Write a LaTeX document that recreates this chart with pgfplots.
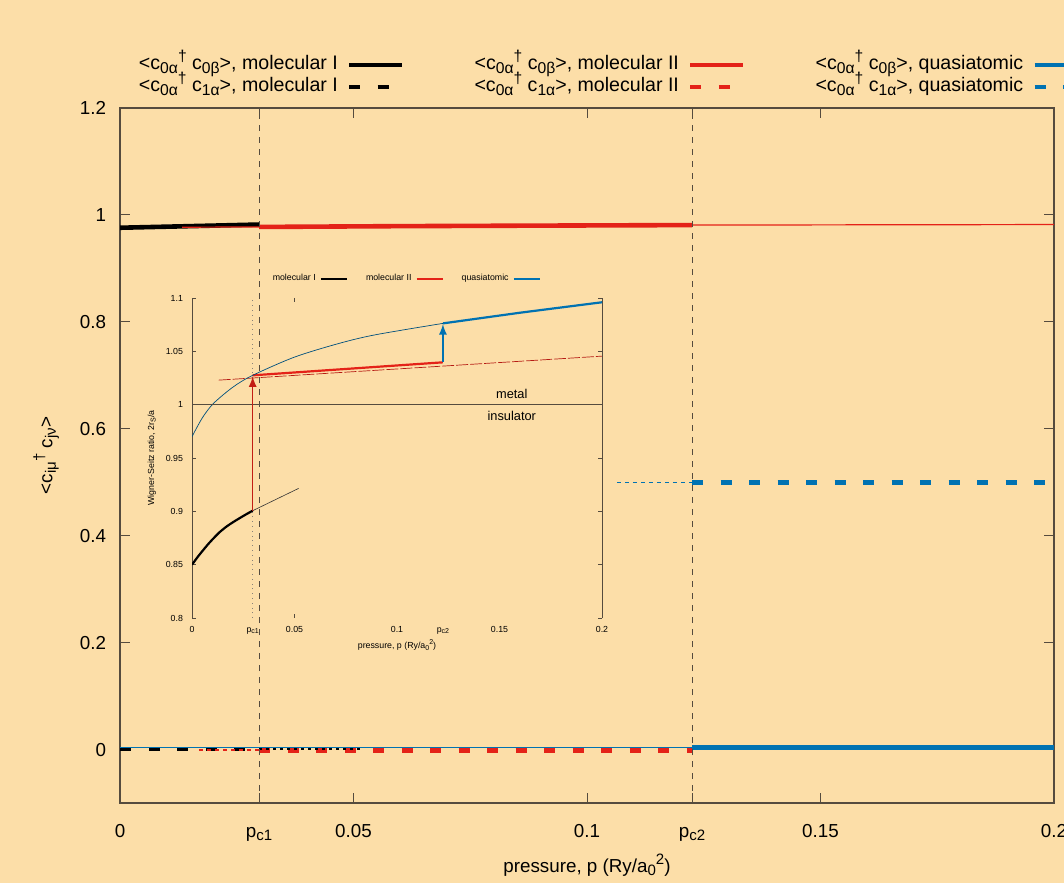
\documentclass[border=0pt]{standalone}
\usepackage{fontspec}
\setmainfont{Liberation Sans}
\usepackage{graphicx}
\usepackage{pgfplots}
\pgfplotsset{compat=1.18}
\definecolor{bg}{RGB}{252,222,168}
\definecolor{myred}{RGB}{228,34,24}
\definecolor{myblue}{RGB}{0,114,178}
\definecolor{axc}{RGB}{85,75,62}
\newcommand{\sbs}[1]{\raisebox{-0.35ex}{\scalebox{0.8}{#1}}}
\newcommand{\sps}[1]{\raisebox{0.8ex}{\scalebox{0.8}{#1}}}
\newcommand{\cc}[2]{<c\sbs{#1}\sps{†} c\sbs{#2}>}
\newcommand{\mainfont}{\fontsize{9.4}{11}\selectfont}
\newcommand{\legfont}{\fontsize{9.8}{11}\selectfont}
\newcommand{\tinyf}{\fontsize{4.4}{5}\selectfont}
\begin{document}
\begin{tikzpicture}
\fill[bg] (-60pt,-40pt) rectangle (472pt,401.5pt);
\begin{axis}[
  scale only axis, width=467pt, height=347.5pt,
  xmin=0, xmax=0.2, ymin=-0.1, ymax=1.2,
  axis line style={axc, line width=0.6pt},
  tick align=inside, major tick length=5pt,
  every tick/.style={axc, line width=0.5pt},
  xtick={0,0.0298,0.05,0.1,0.1225,0.15,0.2},
  xticklabels={0,p\sbs{c1},0.05,0.1,p\sbs{c2},0.15,0.2},
  ytick={0,0.2,0.4,0.6,0.8,1,1.2},
  yticklabels={0,0.2,0.4,0.6,0.8,1,1.2},
  ticklabel style={font=\mainfont},
  xticklabel style={anchor=base, yshift=-17pt},
  yticklabel style={xshift=-3.4pt},
  xlabel={pressure, p (Ry/a\sbs{0}\sps{2})},
  ylabel={\cc{iμ}{jν}},
  label style={font=\mainfont},
  xlabel style={at={(axis description cs:0.5,-0.089)}, anchor=center},
  ylabel style={at={(axis description cs:-0.079,0.5)}, anchor=center, rotate=0},
  legend columns=3, legend plot pos=right, legend cell align=right,
  legend image code/.code={\draw[#1] (0pt,0pt) -- (26.5pt,0pt);},
  legend style={at={(axis description cs:0.0203,1.0756)}, anchor=north west,
    draw=none, fill=none, inner sep=0pt, outer sep=0pt, font=\legfont,
    nodes={inner sep=0pt, text height=7pt, text depth=2.5pt},
    row sep=1.5pt,
    /tikz/every odd column/.append style={column sep=4.5pt},
    /tikz/every even column/.append style={column sep=35pt}},
]
% legend series
\addplot[black, line width=2.3pt] coordinates {(0,0.976) (0.01,0.978) (0.02,0.980) (0.0298,0.982)};
\addlegendentry{\cc{0α}{0β}, molecular I}
\addplot[myred, line width=2.3pt] coordinates {(0.0298,0.9775) (0.06,0.979) (0.09,0.980) (0.1225,0.981)};
\addlegendentry{\cc{0α}{0β}, molecular II}
\addplot[myblue, line width=2.3pt] coordinates {(0.1225,0.004) (0.16,0.004) (0.2,0.004)};
\addlegendentry{\cc{0α}{0β}, quasiatomic}
\addplot[black, line width=2.3pt, dash pattern=on 5.5pt off 8.75pt] coordinates {(0,0.001) (0.0298,0.001)};
\addlegendentry{\cc{0α}{1α}, molecular I}
\addplot[myred, line width=2.3pt, dash pattern=on 5.5pt off 8.75pt] coordinates {(0.0298,-0.002) (0.1225,-0.002)};
\addlegendentry{\cc{0α}{1α}, molecular II}
\addplot[myblue, line width=2.3pt, dash pattern=on 5.5pt off 8.75pt] coordinates {(0.1225,0.5) (0.2,0.5)};
\addlegendentry{\cc{0α}{1α}, quasiatomic}
% thin metastable continuations
\addplot[forget plot, myred, line width=0.6pt] coordinates {(0.0133,0.977) (0.0298,0.9775)};
\addplot[forget plot, myred, line width=0.6pt] coordinates {(0.1225,0.981) (0.2,0.982)};
\addplot[forget plot, myblue, line width=0.6pt, dash pattern=on 2pt off 2pt] coordinates {(0.1064,0.5) (0.1225,0.5)};
\addplot[forget plot, black, line width=0.6pt, dash pattern=on 1.5pt off 2pt] coordinates {(0.0298,0.001) (0.052,0.001)};
\addplot[forget plot, myred, line width=0.6pt, dash pattern=on 2pt off 2pt] coordinates {(0.017,-0.001) (0.0298,-0.001)};
\addplot[forget plot, myblue, line width=0.6pt] coordinates {(0,0.004) (0.1225,0.004)};
% transition lines
\addplot[forget plot, axc, line width=0.5pt, dash pattern=on 3pt off 3pt] coordinates {(0.0298,-0.1) (0.0298,1.2)};
\addplot[forget plot, axc, line width=0.5pt, dash pattern=on 3pt off 3pt] coordinates {(0.1225,-0.1) (0.1225,1.2)};
\end{axis}

% inset
\begin{axis}[
  at={(36pt,92.5pt)}, anchor=south west,
  scale only axis, width=205pt, height=160pt,
  xmin=0, xmax=0.2, ymin=0.8, ymax=1.1,
  separate axis lines,
  x axis line style={draw=none},
  y axis line style={axc, line width=0.5pt},
  tick align=inside, major tick length=2pt,
  every tick/.style={axc, line width=0.4pt},
  xtick={0.05},
  xticklabels={0.05},
  extra x ticks={0,0.0296,0.1,0.1224,0.15,0.2},
  extra x tick labels={0,p\sbs{c1},0.1,p\sbs{c2},0.15,0.2},
  extra x tick style={major tick length=0pt},
  ytick={0.8,0.85,0.9,0.95,1,1.05,1.1},
  yticklabels={0.8,0.85,0.9,0.95,1,1.05,1.1},
  ticklabel style={font=\tinyf},
  xticklabel style={anchor=base, yshift=-7pt},
  yticklabel style={xshift=-1pt},
  xlabel={pressure, p (Ry/a\sbs{0}\sps{2})},
  ylabel={Wigner-Seitz ratio, 2r\sbs{S}/a},
  label style={font=\tinyf},
  xlabel style={at={(axis description cs:0.5,-0.085)}, anchor=center},
  ylabel style={at={(axis description cs:-0.098,0.5)}, anchor=center},
  legend columns=3, legend plot pos=right, legend cell align=right,
  legend image code/.code={\draw[#1] (0pt,0pt) -- (13pt,0pt);},
  legend style={at={(axis description cs:0.197,1.06)}, anchor=west,
    draw=none, fill=none, inner sep=0pt, outer sep=0pt, font=\tinyf,
    nodes={inner sep=0pt},
    /tikz/every odd column/.append style={column sep=2pt},
    /tikz/every even column/.append style={column sep=9pt}},
]
\addplot[black, line width=1.1pt, smooth] coordinates {(0,0.85) (0.003,0.8578) (0.0056,0.864) (0.008,0.8695) (0.0104,0.8745) (0.0135,0.8805) (0.0169,0.8858) (0.02,0.8898) (0.0234,0.8938) (0.0265,0.8973) (0.0296,0.9006)};
\addlegendentry{molecular I}
\addplot[myred, line width=1.1pt] coordinates {(0.0296,1.0275) (0.1224,1.0397)};
\addlegendentry{molecular II}
\addplot[myblue, line width=1.1pt] coordinates {(0.1224,1.0762) (0.16,1.0862) (0.2,1.096)};
\addlegendentry{quasiatomic}
\addplot[forget plot, black!80, line width=0.3pt] coordinates {(0.0296,0.9006) (0.052,0.9215)};
\addplot[forget plot, myred!80!black, line width=0.35pt, dash pattern=on 6pt off 1pt] coordinates {(0.013,1.023) (0.2,1.0455)};
\addplot[forget plot, myblue!70!black, line width=0.35pt, smooth] coordinates {(0,0.970) (0.005,0.9875) (0.0104,1.001) (0.02,1.0165) (0.0296,1.0275) (0.0496,1.0443) (0.07,1.0565) (0.0886,1.0652) (0.1224,1.0762)};
\addplot[forget plot, axc, line width=0.4pt] coordinates {(0,1) (0.2,1)};
\addplot[forget plot, axc!70, line width=0.4pt, dotted] coordinates {(0.0296,0.8) (0.0296,1.1)};
\addplot[forget plot, myred!85!black, line width=0.8pt, -latex] coordinates {(0.0296,0.9006) (0.0296,1.0265)};
\addplot[forget plot, myblue, line width=0.8pt, -latex] coordinates {(0.1224,1.0397) (0.1224,1.0755)};
\node[font=\fontsize{6.4}{7}\selectfont] at (axis cs:0.156,1.0099) {metal};
\node[font=\fontsize{6.4}{7}\selectfont] at (axis cs:0.156,0.9893) {insulator};
\end{axis}
\pgfresetboundingbox
\useasboundingbox (-60pt,-40pt) rectangle (472pt,401.5pt);
\end{tikzpicture}
\end{document}
